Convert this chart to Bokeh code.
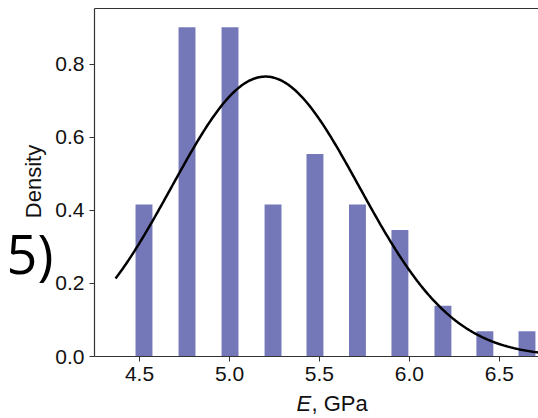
import numpy as np
from bokeh.plotting import figure
from bokeh.models import Label, LinearAxis, FixedTicker, PrintfTickFormatter, Range1d
from bokeh.embed import file_html
from bokeh.resources import INLINE

# Histogram (density)
bin_centers = [4.525, 4.764, 5.003, 5.242, 5.475, 5.711, 5.947, 6.186, 6.419, 6.653]
densities = [0.416, 0.901, 0.901, 0.416, 0.554, 0.416, 0.346, 0.139, 0.069, 0.069]
bar_width = 0.094

# Fitted normal curve parameters
MU = 5.2
SIGMA = 0.521
curve_start = 4.367
curve_end = 6.80

x_ticks = [4.5, 5.0, 5.5, 6.0, 6.5]
y_ticks = [0.0, 0.2, 0.4, 0.6, 0.8]

# axes box (data units)
X_LO, X_HI = 4.25, 6.717
Y_LO, Y_HI = 0.0, 0.952

BAR_COLOR = "#7478B9"
FONT = "Liberation Sans"
W, H = 538, 418
# pixel placement of the axes box inside the canvas
BOX_L, BOX_R, BOX_T, BOX_B = 94, 538, 8, 356

sx = (BOX_R - BOX_L) / (X_HI - X_LO)
sy = (BOX_B - BOX_T) / (Y_HI - Y_LO)
x_range = Range1d(X_LO - BOX_L / sx, X_HI + (W - BOX_R) / sx)
y_range = Range1d(Y_LO - (H - BOX_B) / sy, Y_HI + BOX_T / sy)

p = figure(width=W, height=H, output_backend="svg", toolbar_location=None,
           x_range=x_range, y_range=y_range, min_border=0)
p.outline_line_color = None
p.grid.visible = False
p.background_fill_color = "white"
p.border_fill_color = "white"

p.vbar(x=bin_centers, top=densities, width=bar_width, bottom=0,
       fill_color=BAR_COLOR, line_color=None)

xc = np.linspace(curve_start, curve_end, 300)
yc = np.exp(-0.5 * ((xc - MU) / SIGMA) ** 2) / (SIGMA * np.sqrt(2 * np.pi))
p.line(xc, yc, line_color="black", line_width=2.5)

for ax in (p.xaxis[0], p.yaxis[0]):
    ax.axis_line_color = "#333333"
    ax.axis_line_width = 1.2
    ax.major_tick_line_color = "#333333"
    ax.major_tick_in = 0
    ax.major_tick_out = 5
    ax.minor_tick_line_color = None
    ax.major_label_text_font = FONT
    ax.major_label_text_font_size = "21px"
    ax.major_label_text_color = "#111111"
    ax.major_label_standoff = 5

p.xaxis.fixed_location = Y_LO
p.xaxis.bounds = (X_LO, X_HI)
p.yaxis.fixed_location = X_LO
p.yaxis.bounds = (Y_LO, Y_HI)
p.xaxis.ticker = FixedTicker(ticks=x_ticks)
p.yaxis.ticker = FixedTicker(ticks=y_ticks)
p.xaxis.formatter = PrintfTickFormatter(format="%.1f")
p.yaxis.formatter = PrintfTickFormatter(format="%.1f")

# top spine
top = LinearAxis(ticker=FixedTicker(ticks=[]), major_label_text_font_size="0px",
                 major_tick_line_color=None, minor_tick_line_color=None,
                 axis_line_color="#333333", axis_line_width=1.2,
                 fixed_location=Y_HI, bounds=(X_LO, X_HI))
p.add_layout(top, "above")

# axis titles
p.add_layout(Label(x=296, y=H - 403, x_units="screen", y_units="screen", text="E",
                   text_font=FONT, text_font_style="italic", text_font_size="22px",
                   text_color="#111111", text_baseline="middle"))
p.add_layout(Label(x=311, y=H - 403, x_units="screen", y_units="screen", text=", GPa",
                   text_font=FONT, text_font_size="22px",
                   text_color="#111111", text_baseline="middle"))
p.add_layout(Label(x=33, y=H - 181, x_units="screen", y_units="screen", text="Density",
                   angle=np.pi / 2, text_align="center", text_baseline="middle",
                   text_font=FONT, text_font_size="22px", text_color="#111111"))

# panel tag
p.add_layout(Label(x=6, y=H - 252, x_units="screen", y_units="screen", text="5)",
                   text_font="Open Sans", text_font_size="54px",
                   text_color="black", text_baseline="alphabetic"))

open("out.html", "w").write(file_html(p, INLINE))
